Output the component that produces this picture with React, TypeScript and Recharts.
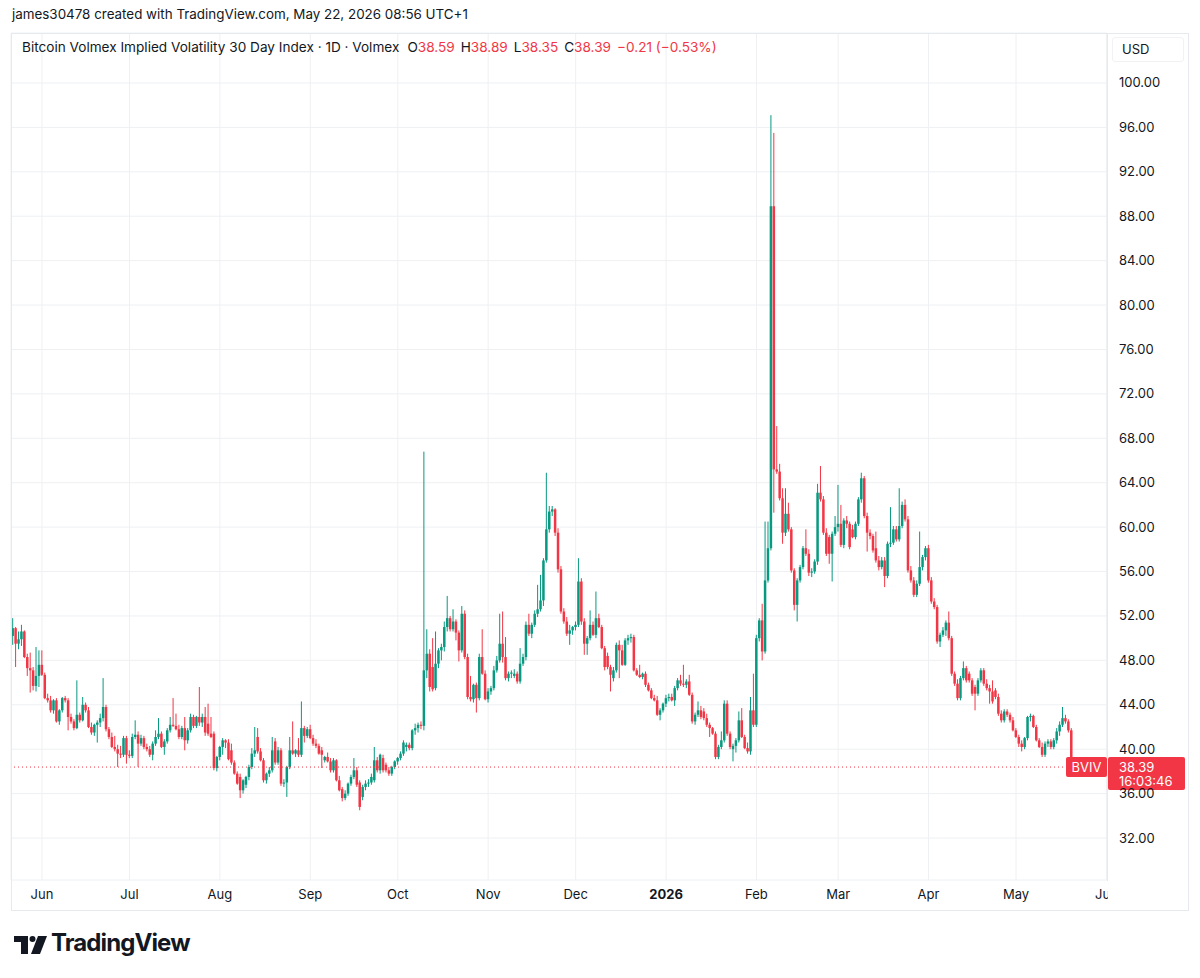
import React from 'react';
import { ComposedChart, Bar, XAxis, YAxis, CartesianGrid, ReferenceLine } from 'recharts';

type Candle = [number, number, number, number]; // open, high, low, close

const UP = '#089981';
const DOWN = '#F23645';
const TEXT = '#131722';
const FONT = 'Inter, "Noto Sans", Roboto, sans-serif';

const startDate = '2025-05-22';

const may2025: Candle[] = [
  [50.2, 51.8, 49.4, 50.9], [50.9, 51.0, 47.4, 49.5], [49.5, 50.6, 49.0, 49.9], [49.9, 51.2, 49.3, 50.6],
  [50.6, 50.7, 48.2, 48.3], [48.3, 48.6, 46.6, 47.3], [47.3, 48.7, 45.1, 47.1], [47.1, 47.4, 45.3, 45.7],
  [45.7, 49.2, 45.2, 46.6], [46.6, 48.9, 45.6, 47.6],
];
const jun2025: Candle[] = [
  [47.6, 48.9, 46.6, 46.7], [46.7, 46.9, 44.5, 44.6], [44.6, 45.0, 44.2, 44.4], [44.4, 44.8, 43.3, 43.5],
  [43.5, 44.5, 43.2, 44.4], [44.4, 44.6, 42.4, 42.5], [42.5, 43.6, 42.2, 43.5], [43.5, 44.7, 43.3, 44.6],
  [44.6, 44.8, 44.2, 44.4], [44.4, 44.6, 41.7, 42.9], [42.9, 43.2, 42.3, 42.5], [42.5, 42.7, 41.7, 41.9],
  [41.9, 46.2, 41.8, 43.1], [43.1, 43.3, 42.4, 42.6], [42.6, 44.7, 42.5, 44.0], [44.0, 44.2, 43.3, 43.5],
  [43.5, 43.8, 41.9, 42.0], [42.0, 42.4, 41.3, 41.5], [41.5, 42.3, 41.2, 42.2], [42.2, 42.6, 40.6, 42.4],
  [42.4, 43.2, 42.0, 42.8], [42.8, 46.4, 42.5, 43.8], [43.8, 44.0, 41.6, 41.8], [41.8, 42.0, 40.9, 41.1],
  [41.1, 41.5, 40.1, 40.2], [40.2, 41.2, 39.8, 40.0], [40.0, 40.4, 38.4, 39.6], [39.6, 40.3, 39.2, 39.5],
  [39.5, 41.2, 39.3, 41.0], [41.0, 41.2, 38.7, 39.5],
];
const jul2025: Candle[] = [
  [39.5, 39.9, 39.2, 39.4], [39.4, 41.4, 39.2, 41.1], [41.1, 42.6, 40.9, 41.3], [41.3, 41.6, 38.4, 40.5],
  [40.5, 41.3, 40.3, 41.0], [41.0, 41.2, 40.0, 40.2], [40.2, 40.5, 39.8, 40.0], [40.0, 40.3, 39.3, 39.5],
  [39.5, 40.7, 39.0, 40.5], [40.5, 41.7, 40.3, 41.1], [41.1, 42.8, 40.9, 41.4], [41.4, 41.6, 40.1, 40.2],
  [40.2, 40.9, 39.5, 40.7], [40.7, 41.9, 40.5, 41.7], [41.7, 42.9, 41.5, 42.2], [42.2, 44.6, 42.0, 42.1],
  [42.1, 43.2, 41.7, 41.8], [41.8, 42.2, 40.9, 41.1], [41.1, 42.1, 40.9, 41.9], [41.9, 42.9, 39.9, 40.8],
  [40.8, 41.9, 40.5, 41.7], [41.7, 43.2, 41.5, 42.9], [42.9, 43.1, 41.9, 42.1], [42.1, 43.0, 41.9, 42.9],
  [42.9, 45.6, 42.1, 42.4], [42.4, 43.2, 42.0, 42.9], [42.9, 43.8, 41.2, 41.5], [42.3, 44.1, 41.2, 41.4],
  [41.4, 42.9, 41.0, 41.1], [41.4, 41.6, 38.1, 38.3], [38.3, 39.4, 38.0, 39.3],
];
const aug2025: Candle[] = [
  [39.3, 40.3, 39.0, 40.2], [40.2, 41.0, 39.5, 40.8], [40.8, 40.9, 40.1, 40.6], [40.6, 40.9, 39.0, 39.1],
  [39.9, 40.5, 38.6, 38.8], [38.8, 39.0, 37.7, 37.8], [37.8, 38.0, 36.8, 36.9], [37.5, 37.8, 35.6, 36.3],
  [36.3, 37.3, 36.0, 37.2], [36.8, 37.6, 36.5, 37.5], [37.5, 38.6, 37.2, 38.4], [38.4, 40.1, 38.2, 39.6],
  [39.6, 42.0, 39.3, 39.9], [41.1, 41.9, 39.6, 39.8], [39.8, 40.1, 38.9, 39.0], [39.0, 39.2, 37.0, 37.2],
  [37.2, 37.9, 36.9, 37.8], [37.8, 38.4, 37.5, 38.1], [38.1, 41.1, 37.9, 39.9], [40.7, 41.0, 38.6, 38.8],
  [38.8, 40.2, 38.6, 39.9], [39.9, 40.1, 36.7, 36.9], [36.9, 37.3, 36.6, 37.0], [37.0, 38.5, 35.7, 38.4],
  [38.4, 41.1, 38.2, 39.9], [39.9, 42.5, 39.5, 39.6], [39.6, 40.0, 39.3, 39.9], [39.9, 41.0, 39.3, 39.5],
  [39.5, 44.3, 39.3, 41.9], [41.9, 42.1, 40.6, 41.2], [41.2, 42.0, 41.0, 41.8],
];
const sep2025: Candle[] = [
  [41.8, 42.2, 40.9, 41.0], [41.0, 41.3, 40.3, 40.5], [40.5, 40.9, 40.1, 40.3], [40.3, 40.5, 39.5, 39.6],
  [39.9, 40.2, 38.3, 39.5], [39.0, 39.4, 38.8, 39.3], [39.3, 39.7, 38.8, 38.9], [38.9, 39.2, 37.9, 38.1],
  [38.1, 39.2, 37.9, 39.0], [39.0, 39.1, 37.1, 37.2], [37.2, 37.6, 36.2, 36.3], [36.4, 36.6, 35.3, 35.6],
  [35.6, 36.3, 35.4, 36.0], [36.0, 37.0, 35.8, 36.9], [36.9, 37.7, 36.7, 37.5], [37.5, 39.2, 37.3, 38.1],
  [38.1, 38.4, 36.6, 36.8], [37.0, 37.2, 34.5, 34.8], [35.7, 36.8, 35.4, 36.6], [36.6, 37.2, 36.3, 36.9],
  [36.9, 37.3, 36.6, 37.0], [37.0, 37.8, 36.8, 37.5], [37.2, 40.2, 37.0, 39.0], [39.0, 39.3, 37.9, 38.1],
  [38.1, 39.6, 37.8, 39.5], [39.2, 39.5, 37.9, 38.1], [38.6, 38.8, 37.9, 38.1], [38.1, 38.4, 37.6, 37.8],
  [37.8, 38.5, 37.6, 38.4], [38.4, 39.0, 38.2, 38.9],
];
const oct2025: Candle[] = [
  [38.9, 39.3, 38.6, 39.2], [39.2, 39.8, 39.0, 39.6], [39.6, 40.8, 39.4, 40.6], [40.2, 40.6, 39.8, 40.4],
  [40.4, 40.6, 39.9, 40.1], [40.1, 41.8, 39.9, 41.7], [41.7, 42.3, 41.3, 41.9], [41.9, 42.4, 41.5, 42.2],
  [42.2, 42.5, 41.8, 42.1], [42.1, 66.8, 41.7, 47.1], [47.1, 50.8, 46.4, 48.6], [48.6, 49.0, 45.2, 45.6],
  [47.4, 50.0, 45.2, 45.4], [45.5, 50.6, 45.3, 47.7], [47.7, 49.1, 47.3, 48.9], [48.9, 49.5, 48.0, 49.2],
  [49.2, 51.5, 48.8, 51.0], [51.0, 53.8, 50.6, 51.8], [51.8, 52.0, 50.6, 50.8], [50.8, 52.6, 50.6, 51.5],
  [51.5, 51.7, 49.8, 50.5], [50.5, 50.7, 47.9, 48.9], [48.9, 52.9, 48.7, 52.2], [52.2, 52.5, 48.1, 48.3],
  [48.3, 48.6, 44.5, 44.7], [44.7, 46.6, 44.3, 44.5], [44.5, 45.9, 44.2, 45.8], [45.8, 46.0, 43.3, 44.6],
  [44.6, 48.6, 44.4, 48.3], [48.3, 50.8, 46.7, 46.8], [46.8, 47.1, 44.4, 44.5],
];
const nov2025: Candle[] = [
  [44.5, 45.5, 44.2, 45.2], [45.2, 45.7, 44.9, 45.5], [45.5, 47.5, 45.3, 47.1], [47.1, 48.4, 46.9, 48.0],
  [48.0, 52.2, 47.8, 49.5], [49.5, 52.4, 47.8, 48.3], [48.3, 50.1, 46.2, 46.4], [46.4, 47.0, 46.1, 46.8],
  [46.8, 47.1, 46.4, 46.9], [46.6, 47.2, 46.4, 46.8], [46.8, 47.0, 45.9, 46.1], [46.1, 49.1, 45.9, 47.7],
  [47.7, 48.6, 47.5, 48.3], [48.3, 51.5, 48.0, 51.2], [51.2, 52.2, 50.2, 50.4], [50.4, 51.4, 50.0, 51.2],
  [51.2, 52.5, 51.0, 52.2], [52.2, 54.8, 51.9, 52.6], [52.6, 55.7, 52.4, 53.4], [53.4, 57.2, 52.9, 57.0],
  [57.0, 64.9, 56.8, 59.8], [59.8, 61.9, 59.5, 61.4], [61.4, 61.9, 61.0, 61.6], [61.6, 61.7, 59.2, 59.5],
  [59.5, 59.9, 55.9, 56.2], [56.2, 56.5, 52.2, 52.4], [52.4, 52.7, 51.3, 51.5], [51.5, 51.9, 50.2, 50.4],
  [50.4, 51.2, 49.4, 50.7], [50.7, 51.1, 50.3, 51.0],
];
const dec2025: Candle[] = [
  [51.0, 51.5, 50.7, 51.2], [51.2, 57.2, 51.0, 55.1], [55.1, 55.4, 51.2, 51.5], [51.5, 51.8, 48.5, 49.5],
  [49.5, 50.2, 48.5, 50.0], [50.0, 52.5, 49.8, 51.2], [51.2, 51.5, 50.2, 50.3], [50.3, 54.2, 50.0, 51.8],
  [51.8, 52.2, 50.9, 51.0], [51.0, 51.2, 49.0, 49.1], [49.1, 49.3, 47.1, 47.4], [48.4, 48.7, 47.2, 47.4],
  [47.4, 47.6, 45.2, 46.7], [46.4, 47.4, 46.1, 47.1], [47.1, 49.6, 46.9, 49.4], [49.4, 49.8, 46.4, 48.9],
  [48.9, 49.4, 47.5, 47.6], [47.6, 50.0, 47.5, 49.8], [49.8, 50.3, 49.4, 50.0], [50.0, 50.4, 49.6, 50.1],
  [50.1, 50.3, 47.0, 47.1], [47.1, 47.3, 46.6, 46.7], [46.7, 47.6, 46.4, 46.5], [46.5, 46.9, 46.3, 46.8],
  [46.8, 47.0, 45.6, 45.8], [45.8, 46.0, 45.2, 45.3], [45.3, 45.5, 44.5, 44.6], [44.6, 44.9, 44.3, 44.4],
  [44.4, 44.8, 43.0, 43.1], [43.1, 43.7, 42.6, 43.5], [43.5, 44.2, 43.3, 44.1],
];
const jan2026: Candle[] = [
  [44.1, 44.9, 43.8, 44.6], [44.6, 45.0, 44.3, 44.7], [44.7, 45.0, 44.3, 44.4], [44.4, 45.7, 43.9, 45.5],
  [45.5, 46.4, 45.3, 46.2], [46.2, 46.7, 45.7, 45.9], [45.9, 47.6, 45.6, 45.8], [45.8, 46.3, 45.5, 46.1],
  [46.1, 46.7, 44.8, 44.9], [44.9, 45.1, 42.3, 42.5], [42.5, 43.3, 42.2, 43.1], [43.1, 44.3, 42.9, 43.5],
  [43.5, 43.9, 42.7, 42.9], [43.4, 43.7, 42.6, 42.8], [42.8, 43.2, 42.0, 42.2], [42.2, 42.4, 41.1, 41.9],
  [41.9, 42.0, 41.3, 41.4], [41.4, 41.6, 39.1, 39.3], [39.3, 40.4, 39.1, 40.2], [40.2, 41.6, 40.0, 40.8],
  [40.8, 44.4, 40.6, 44.1], [44.1, 44.4, 41.2, 41.4], [41.4, 41.6, 40.0, 40.2], [40.0, 40.5, 38.9, 40.3],
  [40.3, 41.0, 39.7, 40.8], [40.8, 43.4, 40.6, 42.6], [42.6, 43.7, 41.0, 41.1], [41.1, 41.3, 40.0, 40.1],
  [40.1, 40.6, 39.6, 39.8], [39.8, 44.7, 39.5, 43.5], [43.5, 46.8, 42.0, 42.2],
];
const feb2026: Candle[] = [
  [42.2, 50.3, 42.0, 50.0], [50.0, 51.8, 49.7, 51.6], [51.6, 53.1, 48.0, 48.8], [48.8, 60.5, 48.6, 55.2],
  [55.2, 60.5, 55.0, 58.1], [58.1, 97.1, 57.9, 88.9], [88.9, 95.5, 61.3, 65.2], [65.2, 69.1, 64.8, 65.0],
  [65.0, 65.7, 62.4, 62.6], [62.6, 63.5, 58.5, 59.5], [59.5, 63.5, 59.2, 61.2], [61.2, 62.2, 59.6, 59.8],
  [59.8, 60.0, 55.9, 56.1], [56.1, 56.3, 52.5, 53.0], [53.0, 55.4, 51.5, 55.2], [55.2, 56.6, 55.0, 56.4],
  [56.4, 58.3, 56.2, 58.1], [58.1, 59.8, 57.4, 57.6], [57.6, 58.0, 55.6, 55.9], [55.9, 56.3, 55.5, 56.0],
  [56.0, 57.1, 55.8, 56.9], [56.9, 63.9, 56.6, 63.1], [63.1, 65.5, 62.3, 62.5], [62.5, 62.8, 59.3, 59.5],
  [59.5, 59.9, 57.4, 57.6], [59.1, 59.3, 56.7, 57.6], [57.6, 59.6, 55.1, 59.4], [59.4, 61.0, 59.2, 60.0],
];
const mar2026: Candle[] = [
  [60.0, 63.8, 59.6, 60.3], [60.3, 62.0, 58.2, 58.4], [58.4, 60.8, 58.1, 60.6], [60.6, 61.0, 59.9, 60.3],
  [60.3, 60.5, 58.0, 58.2], [59.8, 60.2, 59.0, 59.1], [59.1, 60.5, 58.9, 60.3], [60.3, 62.7, 60.1, 62.5],
  [62.5, 64.9, 62.2, 64.4], [64.4, 64.6, 60.8, 61.0], [61.0, 61.3, 57.8, 59.5], [59.5, 59.8, 58.9, 59.2],
  [59.2, 59.4, 57.7, 57.9], [58.1, 59.6, 56.8, 57.0], [57.0, 57.4, 56.1, 56.4], [56.4, 57.3, 56.2, 57.0],
  [57.0, 57.3, 54.6, 55.6], [55.6, 58.7, 55.4, 58.5], [58.5, 61.8, 58.2, 58.6], [58.6, 60.1, 58.4, 59.8],
  [59.8, 60.1, 58.7, 58.9], [58.9, 63.5, 58.7, 60.1], [60.1, 62.3, 59.9, 62.0], [62.0, 62.5, 60.5, 60.7],
  [60.7, 61.0, 55.9, 56.1], [56.1, 56.5, 55.0, 55.2], [55.2, 55.5, 53.7, 53.9], [53.9, 55.2, 53.7, 54.9],
  [54.9, 59.6, 54.7, 56.4], [56.4, 57.5, 56.1, 57.3], [57.3, 58.3, 57.0, 58.1],
];
const apr2026: Candle[] = [
  [58.1, 58.4, 55.0, 55.2], [55.2, 55.5, 53.1, 53.3], [53.3, 53.6, 52.6, 52.8], [52.8, 53.0, 49.5, 49.7],
  [49.7, 50.5, 49.2, 50.3], [50.3, 51.0, 50.1, 50.7], [50.7, 51.6, 50.2, 51.4], [51.4, 52.4, 49.8, 50.0],
  [50.0, 50.2, 46.6, 46.8], [46.8, 47.0, 45.7, 45.9], [45.9, 46.3, 44.4, 44.6], [44.6, 46.6, 44.4, 46.4],
  [46.4, 47.9, 46.2, 47.3], [47.3, 47.5, 46.0, 46.2], [46.8, 47.0, 46.0, 46.2], [46.2, 46.4, 44.8, 45.0],
  [45.6, 45.8, 43.5, 45.0], [45.0, 46.4, 44.8, 46.2], [46.2, 47.3, 46.0, 47.1], [47.1, 47.3, 45.7, 45.9],
  [45.9, 46.3, 45.3, 45.5], [45.5, 45.8, 44.1, 45.2], [45.2, 46.2, 44.1, 44.3], [45.3, 45.5, 44.5, 44.7],
  [44.7, 45.0, 43.0, 43.2], [43.2, 43.5, 42.4, 42.6], [42.6, 43.6, 42.4, 43.4], [43.4, 43.6, 42.9, 43.1],
  [43.1, 43.3, 42.4, 42.6], [42.6, 42.9, 41.6, 41.7],
];
const may2026: Candle[] = [
  [41.7, 41.9, 41.0, 41.1], [41.1, 41.3, 40.2, 40.5], [40.5, 40.8, 39.8, 40.2], [40.2, 41.1, 40.0, 41.0],
  [41.0, 43.0, 40.8, 42.9], [42.9, 43.2, 42.5, 43.0], [43.0, 43.1, 41.9, 42.0], [42.0, 42.2, 40.7, 40.8],
  [40.8, 41.0, 40.1, 40.2], [40.2, 40.6, 39.3, 39.5], [39.5, 40.7, 39.3, 40.5], [40.5, 40.9, 40.2, 40.7],
  [40.7, 40.9, 40.0, 40.2], [40.2, 41.0, 40.0, 40.8], [40.8, 41.9, 40.5, 41.6], [41.6, 42.5, 41.2, 42.2],
  [42.2, 43.8, 42.0, 42.8], [42.8, 43.1, 42.3, 42.5], [42.5, 42.7, 41.5, 41.7], [41.7, 41.9, 38.5, 38.6],
  [38.59, 38.89, 38.35, 38.39],
];

const monthTickDates = [
  '2025-06-01', '2025-07-01', '2025-08-01', '2025-09-01', '2025-10-01', '2025-11-01', '2025-12-01',
  '2026-01-01', '2026-02-01', '2026-03-01', '2026-04-01', '2026-05-01', '2026-06-01',
];
const monthTickLabels = ['Jun', 'Jul', 'Aug', 'Sep', 'Oct', 'Nov', 'Dec', '2026', 'Feb', 'Mar', 'Apr', 'May', 'Jun'];
const priceTicks = [32, 36, 40, 44, 48, 52, 56, 60, 64, 68, 72, 76, 80, 84, 88, 92, 96, 100];

const lastPrice = 38.39;
const countdown = '16:03:46';
const symbolTag = 'BVIV';

const DAY = 86400000;
const startMs = Date.parse(startDate + 'T00:00:00Z');
const dayIndex = (iso: string) => Math.round((Date.parse(iso + 'T00:00:00Z') - startMs) / DAY);

const candles: Candle[] = [
  ...may2025, ...jun2025, ...jul2025, ...aug2025, ...sep2025, ...oct2025, ...nov2025,
  ...dec2025, ...jan2026, ...feb2026, ...mar2026, ...apr2026, ...may2026,
];
const data = candles.map(([open, high, low, close], i) => ({
  day: i,
  date: new Date(startMs + i * DAY).toISOString().slice(0, 10),
  open, high, low, close,
  range: [low, high],
}));
const monthTickDays = monthTickDates.map(dayIndex);

const CandleShape = (props: any) => {
  const { x, y, width, height } = props;
  const p = props.payload || props;
  const { open, high, low, close } = p;
  const top = Math.min(y, y + height);
  const h = Math.abs(height);
  const ratio = high > low ? h / (high - low) : 0;
  const yOf = (v: number) => top + (high - v) * ratio;
  const color = close >= open ? UP : DOWN;
  const cx = x + width / 2;
  const bTop = yOf(Math.max(open, close));
  const bBot = yOf(Math.min(open, close));
  return (
    <g>
      <line x1={cx} x2={cx} y1={top} y2={top + h} stroke={color} strokeWidth={1} />
      <rect x={cx - 1.25} y={bTop} width={2.5} height={Math.max(1, bBot - bTop)} fill={color} />
    </g>
  );
};

const MonthTick = (props: any) => {
  const { x, y, payload } = props;
  const i = monthTickDays.indexOf(payload.value);
  const label = monthTickLabels[i] ?? '';
  return (
    <text x={x} y={y + 19} textAnchor="middle" fontSize={13} fontFamily={FONT} fill={TEXT}
      fontWeight={label === '2026' ? 700 : 400}>
      {label}
    </text>
  );
};

const PriceTick = (props: any) => {
  const { x, y, payload } = props;
  return (
    <text x={x + 12} y={y + 4.5} textAnchor="start" fontSize={13} fontFamily={FONT} fill={TEXT}>
      {Number(payload.value).toFixed(2)}
    </text>
  );
};

const PriceTag = (props: any) => {
  const vb = props.viewBox || {};
  const vx = vb.x ?? 0;
  const vy = vb.y ?? 0;
  const vw = vb.width ?? 0;
  const right = vx + vw;
  return (
    <g fontFamily={FONT} fontSize={13}>
      <rect x={right - 41} y={vy - 10} width={41} height={20} rx={2} fill={DOWN} />
      <text x={right - 20.5} y={vy + 4.5} textAnchor="middle" fill="#fff">{symbolTag}</text>
      <rect x={right + 1} y={vy - 10} width={77} height={33} rx={2} fill={DOWN} />
      <text x={right + 12} y={vy + 4.5} fill="#fff">{lastPrice.toFixed(2)}</text>
      <text x={right + 12} y={vy + 18.5} fill="#fff">{countdown}</text>
    </g>
  );
};

export default function App() {
  return (
    <div style={{ position: 'absolute', left: 0, top: 0, width: 1200, height: 978, background: '#fff', overflow: 'hidden', fontFamily: FONT, color: TEXT }}>
      <div style={{ position: 'absolute', left: 12, top: 6, fontSize: 13.4, whiteSpace: 'nowrap' }}>
        james30478 created with TradingView.com, May 22, 2026 08:56 UTC+1
      </div>
      <div style={{ position: 'absolute', left: 0, top: 0 }}>
        <ComposedChart width={1200} height={978} data={data} margin={{ top: 33, left: 11, right: 13, bottom: 68 }}>
          <CartesianGrid stroke="#eef0f3" strokeWidth={1} />
          <XAxis dataKey="day" type="number" domain={[-0.63, 375.2]} allowDataOverflow ticks={monthTickDays}
            interval={0} tickLine={false} axisLine={false} tickSize={0} tickMargin={0} height={30} tick={<MonthTick />} />
          <YAxis orientation="right" type="number" domain={[28.22, 104.5]} allowDataOverflow ticks={priceTicks}
            interval={0} tickLine={false} axisLine={false} tickSize={0} tickMargin={0} width={80} tick={<PriceTick />} />
          <Bar dataKey="range" barSize={3} isAnimationActive={false} shape={<CandleShape />} />
          <ReferenceLine y={lastPrice} stroke={DOWN} strokeDasharray="1 3" strokeWidth={1} label={(p: any) => <PriceTag {...p} />} />
        </ComposedChart>
      </div>
      {/* frame lines */}
      <div style={{ position: 'absolute', left: 11, top: 33, width: 1176, height: 876, border: '1px solid #e6e9ee', pointerEvents: 'none' }} />
      <div style={{ position: 'absolute', left: 1107, top: 33, width: 1, height: 848, background: '#e6e9ee' }} />
      <div style={{ position: 'absolute', left: 1108, top: 881, width: 79, height: 28, background: '#fff' }} />
      {/* legend */}
      <div style={{ position: 'absolute', left: 22, top: 39, fontSize: 13.6, whiteSpace: 'nowrap' }}>
        <span>Bitcoin Volmex Implied Volatility 30 Day Index · 1D · Volmex</span>
        <span style={{ marginLeft: 8 }}>O<span style={{ color: DOWN }}>38.59</span></span>
        <span style={{ marginLeft: 6 }}>H<span style={{ color: DOWN }}>38.89</span></span>
        <span style={{ marginLeft: 6 }}>L<span style={{ color: DOWN }}>38.35</span></span>
        <span style={{ marginLeft: 6 }}>C<span style={{ color: DOWN }}>38.39</span></span>
        <span style={{ marginLeft: 6, color: DOWN }}>−0.21 (−0.53%)</span>
      </div>
      {/* currency box */}
      <div style={{ position: 'absolute', left: 1112, top: 37, width: 72, height: 25, border: '1px solid #f0f2f5', borderRadius: 3, boxSizing: 'border-box', fontSize: 13, lineHeight: '23px', paddingLeft: 9 }}>
        USD
      </div>
      {/* logo */}
      <svg style={{ position: 'absolute', left: 12, top: 930 }} width={40} height={28}>
        <path d="M2 6 H16 V24 H9 V12 H2 Z" fill="#131722" />
        <circle cx={20.5} cy={9} r={3} fill="#131722" />
        <path d="M26 6 H35 L28 24 H19 Z" fill="#131722" />
      </svg>
      <div style={{ position: 'absolute', left: 51, top: 928, fontSize: 24, fontWeight: 700, letterSpacing: -0.9, whiteSpace: 'nowrap' }}>
        TradingView
      </div>
    </div>
  );
}
